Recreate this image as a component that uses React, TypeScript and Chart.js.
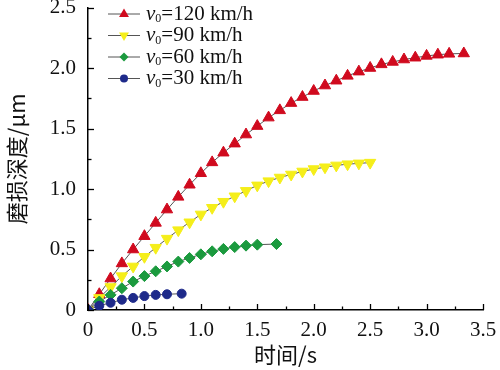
import React, { useEffect, useRef } from "react";
import { Chart, registerables } from "chart.js";

Chart.register(...registerables);

// ---- data ----
const seriesLabels = ["120", "90", "60", "30"];
const seriesColors = ["#D00A1E", "#F5EE1A", "#1B9A3E", "#1E2A8A"];

const t120 = [0, 0.1, 0.2, 0.3, 0.4, 0.5, 0.6, 0.7, 0.8, 0.9, 1.0, 1.1, 1.2, 1.3, 1.4, 1.5, 1.6, 1.7, 1.8, 1.9, 2.0, 2.1, 2.2, 2.3, 2.4, 2.5, 2.6, 2.7, 2.8, 2.9, 3.0, 3.1, 3.2, 3.33];
const v120 = [0, 0.13, 0.26, 0.385, 0.5, 0.61, 0.72, 0.83, 0.935, 1.035, 1.13, 1.22, 1.3, 1.375, 1.45, 1.52, 1.59, 1.65, 1.71, 1.76, 1.81, 1.855, 1.895, 1.935, 1.97, 2.0, 2.03, 2.05, 2.07, 2.085, 2.1, 2.11, 2.117, 2.12];

const t90 = [0, 0.1, 0.2, 0.3, 0.4, 0.5, 0.6, 0.7, 0.8, 0.9, 1.0, 1.1, 1.2, 1.3, 1.4, 1.5, 1.6, 1.7, 1.8, 1.9, 2.0, 2.1, 2.2, 2.3, 2.4, 2.5];
const v90 = [0, 0.1, 0.19, 0.28, 0.36, 0.44, 0.515, 0.59, 0.66, 0.725, 0.79, 0.845, 0.895, 0.94, 0.985, 1.03, 1.065, 1.095, 1.12, 1.145, 1.165, 1.18, 1.195, 1.205, 1.212, 1.218];

const t60 = [0, 0.1, 0.2, 0.3, 0.4, 0.5, 0.6, 0.7, 0.8, 0.9, 1.0, 1.1, 1.2, 1.3, 1.4, 1.5, 1.67];
const v60 = [0, 0.07, 0.125, 0.18, 0.235, 0.28, 0.32, 0.36, 0.4, 0.43, 0.46, 0.485, 0.505, 0.52, 0.532, 0.54, 0.545];

const t30 = [0, 0.1, 0.2, 0.3, 0.4, 0.5, 0.6, 0.7, 0.83];
const v30 = [0, 0.035, 0.06, 0.085, 0.1, 0.115, 0.125, 0.13, 0.135];

const xTitle = "时间/s";
const yTitle = "磨损深度/μm";

const SERIF = "'Liberation Serif', 'DejaVu Serif', serif";
const CJK = "'Noto Sans CJK SC', 'Liberation Serif', serif";

const pts = (t: number[], v: number[]) => t.map((x, i) => ({ x, y: v[i] }));

const legendPlugin = {
  id: "customLegend",
  afterDraw(chart: any) {
    const ctx = chart.ctx;
    const rows = [14, 35.5, 57, 78.5];
    const styles = ["up", "down", "diamond", "circle"];
    ctx.save();
    seriesLabels.forEach((lab, i) => {
      const y = rows[i];
      ctx.strokeStyle = "#555";
      ctx.lineWidth = 1;
      ctx.beginPath();
      ctx.moveTo(108, y);
      ctx.lineTo(140, y);
      ctx.stroke();
      ctx.fillStyle = seriesColors[i];
      const cx = 124;
      const r = 5.5;
      ctx.beginPath();
      if (styles[i] === "up") {
        ctx.moveTo(cx, y - r);
        ctx.lineTo(cx + r * 0.9, y + r * 0.55);
        ctx.lineTo(cx - r * 0.9, y + r * 0.55);
      } else if (styles[i] === "down") {
        ctx.moveTo(cx, y + r);
        ctx.lineTo(cx + r * 0.9, y - r * 0.55);
        ctx.lineTo(cx - r * 0.9, y - r * 0.55);
      } else if (styles[i] === "diamond") {
        ctx.moveTo(cx, y - 4.5);
        ctx.lineTo(cx + 4.5, y);
        ctx.lineTo(cx, y + 4.5);
        ctx.lineTo(cx - 4.5, y);
      } else {
        ctx.arc(cx, y, 4, 0, Math.PI * 2);
      }
      ctx.closePath();
      ctx.fill();
      // text
      ctx.fillStyle = "#111";
      ctx.textBaseline = "middle";
      ctx.textAlign = "left";
      let x = 146;
      ctx.font = "italic 21px " + SERIF;
      ctx.fillText("v", x, y);
      x += ctx.measureText("v").width;
      ctx.font = "12px " + SERIF;
      ctx.fillText("0", x, y + 5);
      x += ctx.measureText("0").width;
      ctx.font = "21px " + SERIF;
      ctx.fillText("=" + lab + " km/h", x, y);
    });
    ctx.restore();
  },
};

const innerTicksPlugin = {
  id: "innerTicks",
  afterDraw(chart: any) {
    const ctx = chart.ctx;
    const { left, bottom } = chart.chartArea;
    const xs = chart.scales.x;
    const ys = chart.scales.y;
    ctx.save();
    ctx.strokeStyle = "#000";
    ctx.lineWidth = 1.3;
    const xt = xs.ticks.map((t: any) => t.value);
    for (let i = 0; i < xt.length; i++) {
      const p = Math.round(xs.getPixelForValue(xt[i])) + 0.5;
      ctx.beginPath();
      ctx.moveTo(p, bottom);
      ctx.lineTo(p, bottom - 6);
      ctx.stroke();
      if (i < xt.length - 1) {
        const m = Math.round(xs.getPixelForValue((xt[i] + xt[i + 1]) / 2)) + 0.5;
        ctx.beginPath();
        ctx.moveTo(m, bottom);
        ctx.lineTo(m, bottom - 3.5);
        ctx.stroke();
      }
    }
    const yt = ys.ticks.map((t: any) => t.value);
    for (let i = 0; i < yt.length; i++) {
      const p = Math.round(ys.getPixelForValue(yt[i])) + 0.5;
      ctx.beginPath();
      ctx.moveTo(left, p);
      ctx.lineTo(left + 6, p);
      ctx.stroke();
      if (i < yt.length - 1) {
        const m = Math.round(ys.getPixelForValue((yt[i] + yt[i + 1]) / 2)) + 0.5;
        ctx.beginPath();
        ctx.moveTo(left, m);
        ctx.lineTo(left + 3.5, m);
        ctx.stroke();
      }
    }
    ctx.restore();
  },
};

export default function App() {
  const ref = useRef<HTMLCanvasElement | null>(null);
  useEffect(() => {
    if (!ref.current) return;
    const mk = (label: string, data: any[], color: string, style: string, radius: number, rotation = 0) => ({
      label,
      data,
      borderColor: "#555",
      borderWidth: 1,
      pointStyle: style,
      pointRotation: rotation,
      pointRadius: radius,
      pointBackgroundColor: color,
      pointBorderColor: color,
      pointBorderWidth: 1,
      tension: 0,
    });
    const chart = new Chart(ref.current, {
      type: "line",
      data: {
        datasets: [
          mk("v0=30 km/h", pts(t30, v30), seriesColors[3], "circle", 4.5),
          mk("v0=60 km/h", pts(t60, v60), seriesColors[2], "rectRot", 5.5),
          mk("v0=90 km/h", pts(t90, v90), seriesColors[1], "triangle", 6.5, 180),
          mk("v0=120 km/h", pts(t120, v120), seriesColors[0], "triangle", 6.5),
        ],
      },
      options: {
        animation: false,
        responsive: false,
        maintainAspectRatio: false,
        layout: { padding: { top: 7, right: 17, left: 3, bottom: 2 } },
        plugins: { legend: { display: false }, tooltip: { enabled: false } },
        scales: {
          x: {
            type: "linear",
            min: 0,
            max: 3.5,
            grid: { display: false, drawTicks: false },
            border: { display: true, color: "#000", width: 1.5 },
            ticks: {
              stepSize: 0.5,
              padding: 8,
              color: "#111",
              font: { family: SERIF, size: 21 },
              callback: (v: any) => (v === 0 ? "0" : Number(v).toFixed(1)),
              maxRotation: 0,
            },
            title: { display: true, text: xTitle, color: "#111", font: { family: CJK, size: 22 }, padding: 0 },
            afterFit: (s: any) => {
              s.height = 58;
              s.paddingLeft = 0;
              s.paddingRight = 0;
            },
          },
          y: {
            min: 0,
            max: 2.5,
            grid: { display: false, drawTicks: false },
            border: { display: true, color: "#000", width: 1.5 },
            ticks: {
              stepSize: 0.5,
              padding: 12,
              color: "#111",
              font: { family: SERIF, size: 21 },
              callback: (v: any) => (v === 0 ? "0" : Number(v).toFixed(1)),
            },
            title: { display: true, text: yTitle, color: "#111", font: { family: CJK, size: 22 }, padding: 0 },
            afterFit: (s: any) => {
              s.width = 85;
              s.paddingTop = 0;
              s.paddingBottom = 0;
            },
          },
        },
      },
      plugins: [innerTicksPlugin, legendPlugin],
    });
    return () => chart.destroy();
  }, []);
  return (
    <div style={{ position: "fixed", left: 0, top: 0, width: 500, height: 370, background: "#fff" }}>
      <canvas ref={ref} width={500} height={370} style={{ width: 500, height: 370 }} />
    </div>
  );
}
